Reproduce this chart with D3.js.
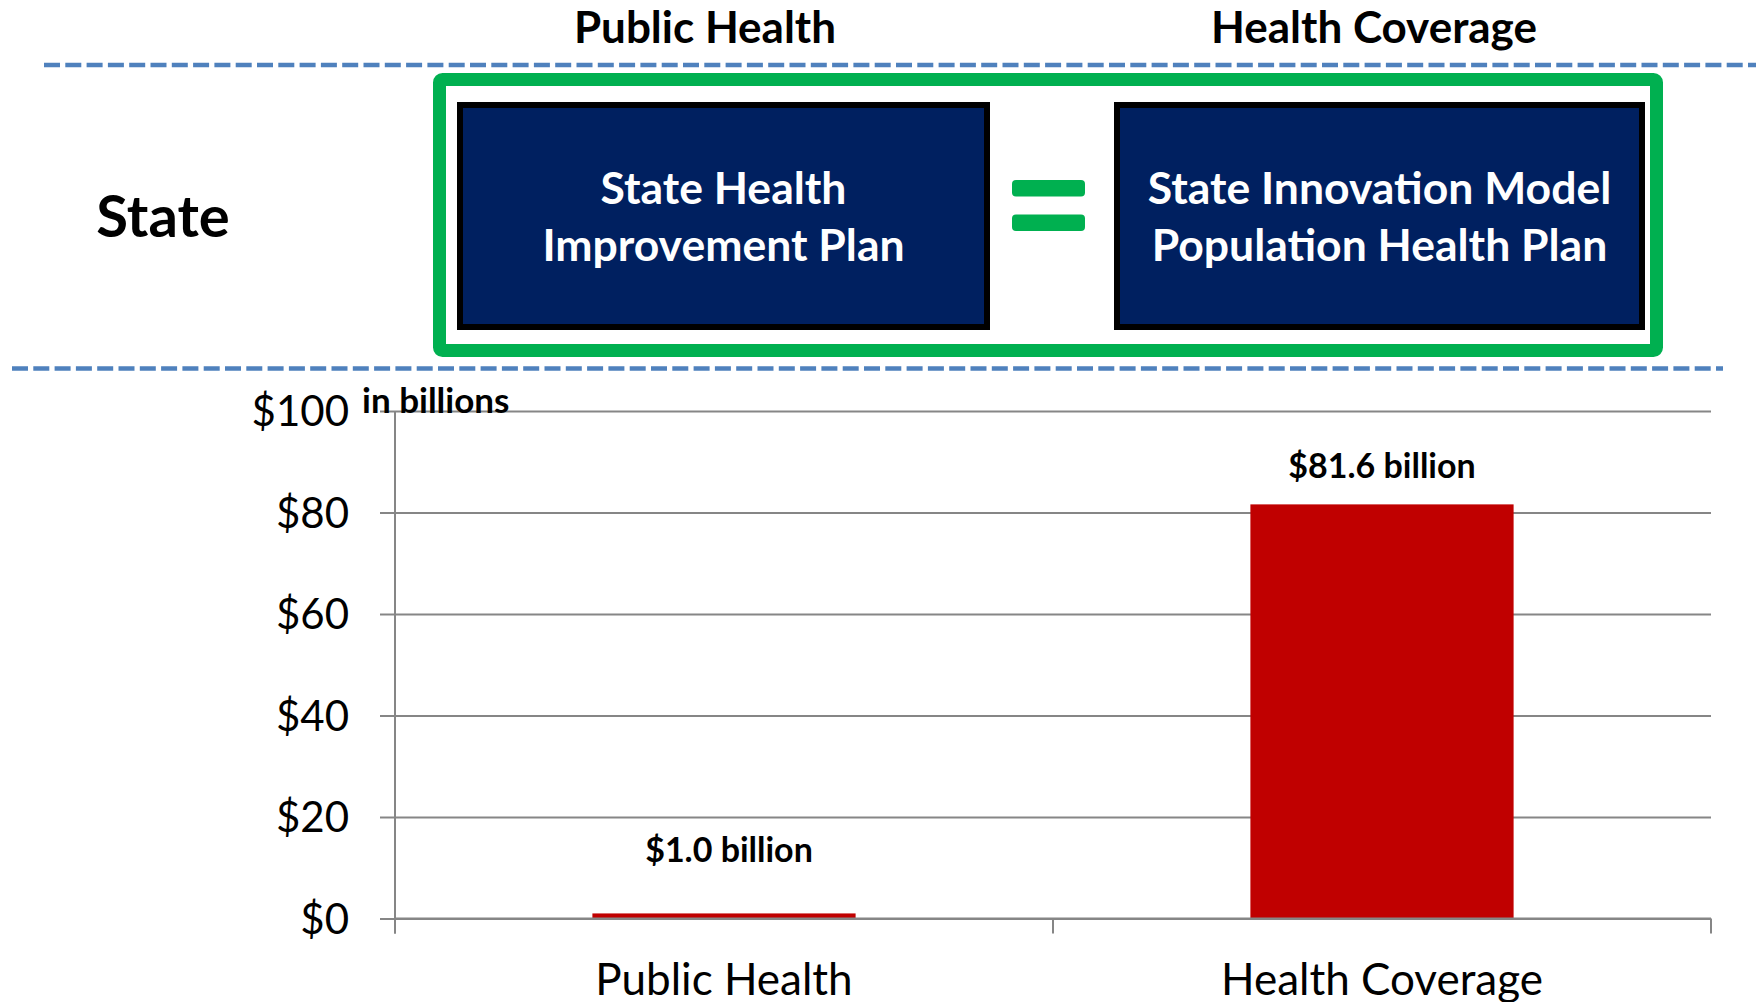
<!DOCTYPE html>
<html>
<head>
<meta charset="utf-8">
<script src="https://cdn.jsdelivr.net/npm/d3@7"></script>
<style>
  html, body { margin: 0; padding: 0; background: #fff; }
  svg { display: block; font-family: Lato, "Open Sans", sans-serif; }
</style>
</head>
<body>
<div id="chart"></div>
<script>
// data ---------------------------------------------------------------
const categories  = ['Public Health', 'Health Coverage'];
const values      = [1.0, 81.6];          // $ billions
const valueLabels = ['$1.0 billion', '$81.6 billion'];
const yTicks      = [0, 20, 40, 60, 80, 100];
const headers     = ['Public Health', 'Health Coverage'];
const planLines   = [
  ['State Health', 'Improvement Plan'],
  ['State Innovation Model', 'Population Health Plan']
];
const rowLabel    = 'State';
const unitLabel   = 'in billions';

// layout -------------------------------------------------------------
const W = 1756, H = 1002;
const plot = { left: 395, right: 1711, top: 411, bottom: 918.5 };
const BLUE = '#4F81BD', GREEN = '#00B050', NAVY = '#002060', RED = '#C00000', GRID = '#868686';

const svg = d3.select('#chart').append('svg')
    .attr('width', W)
    .attr('height', H);

// dashed separators
svg.append('line')
    .attr('x1', 44).attr('x2', W).attr('y1', 65).attr('y2', 65)
    .attr('stroke', BLUE).attr('stroke-width', 4.7).attr('stroke-dasharray', '16 5.3');
svg.append('line')
    .attr('x1', 12).attr('x2', 1723).attr('y1', 368.5).attr('y2', 368.5)
    .attr('stroke', BLUE).attr('stroke-width', 4.7).attr('stroke-dasharray', '16 5.3');

const x = d3.scaleBand()
    .domain(categories)
    .range([plot.left, plot.right])
    .paddingInner(0.6)
    .paddingOuter(0.3);

// column headers
svg.selectAll('text.header')
  .data(headers)
  .join('text')
    .attr('class', 'header')
    .attr('x', (d, i) => [705, 1374][i])
    .attr('y', 43)
    .attr('text-anchor', 'middle')
    .attr('font-weight', 700)
    .attr('font-size', 44)
    .text(d => d);

// row label
svg.append('text')
    .attr('x', 163).attr('y', 237)
    .attr('text-anchor', 'middle')
    .attr('font-weight', 700)
    .attr('font-size', 58)
    .text(rowLabel);

// green frame + plan boxes
svg.append('rect')
    .attr('x', 439.5).attr('y', 79.5)
    .attr('width', 1217).attr('height', 271)
    .attr('rx', 3)
    .attr('fill', 'none')
    .attr('stroke', GREEN).attr('stroke-width', 13);

const boxes = [{ x: 460, w: 527 }, { x: 1117, w: 525 }];
const gBox = svg.selectAll('g.plan')
  .data(planLines)
  .join('g')
    .attr('class', 'plan');

gBox.append('rect')
    .attr('x', (d, i) => boxes[i].x)
    .attr('y', 105)
    .attr('width', (d, i) => boxes[i].w)
    .attr('height', 222)
    .attr('fill', NAVY)
    .attr('stroke', '#000').attr('stroke-width', 6);

gBox.selectAll('text')
  .data((d, i) => d.map((t, j) => ({ t, j, cx: boxes[i].x + boxes[i].w / 2 })))
  .join('text')
    .attr('x', d => d.cx)
    .attr('y', d => 204 + d.j * 57)
    .attr('text-anchor', 'middle')
    .attr('fill', '#fff')
    .attr('font-weight', 700)
    .attr('font-size', 44.5)
    .text(d => d.t);

// equals sign
[180, 214.5].forEach(yy => {
  svg.append('rect')
      .attr('x', 1012).attr('y', yy)
      .attr('width', 73).attr('height', 16.5)
      .attr('rx', 4)
      .attr('fill', GREEN);
});

// bar chart ----------------------------------------------------------
const y = d3.scaleLinear()
    .domain([0, 100])
    .range([plot.bottom, plot.top]);

// gridlines
svg.append('g')
    .attr('transform', `translate(${plot.left},0)`)
    .call(d3.axisLeft(y).tickValues(yTicks).tickSize(-(plot.right - plot.left)).tickFormat(''))
    .call(g => g.select('.domain').remove())
    .call(g => g.selectAll('line').attr('stroke', GRID).attr('stroke-width', 2));

// y axis with ticks + labels
svg.append('g')
    .attr('transform', `translate(${plot.left},0)`)
    .call(d3.axisLeft(y).tickValues(yTicks).tickSize(15).tickPadding(31).tickFormat(d => '$' + d))
    .call(g => g.select('.domain').remove())
    .call(g => g.selectAll('line').attr('stroke', GRID).attr('stroke-width', 2))
    .call(g => g.selectAll('text')
        .attr('font-family', 'Lato, sans-serif')
        .attr('font-size', 42)
        .attr('fill', '#000')
        .attr('dy', '0.35em'));

svg.append('line')
    .attr('x1', plot.left).attr('x2', plot.left)
    .attr('y1', plot.top).attr('y2', plot.bottom + 15)
    .attr('stroke', GRID).attr('stroke-width', 2);

// category boundary ticks
const bounds = [plot.left]
  .concat(categories.slice(1).map(c => x(c) - x.step() * x.paddingInner() / 2))
  .concat([plot.right]);
svg.selectAll('line.cat-tick')
  .data(bounds)
  .join('line')
    .attr('class', 'cat-tick')
    .attr('x1', d => d).attr('x2', d => d)
    .attr('y1', plot.bottom).attr('y2', plot.bottom + 15)
    .attr('stroke', GRID).attr('stroke-width', 2);

// bars
svg.selectAll('rect.bar')
  .data(values)
  .join('rect')
    .attr('class', 'bar')
    .attr('x', (d, i) => x(categories[i]))
    .attr('y', d => y(d))
    .attr('width', x.bandwidth())
    .attr('height', d => y(0) - y(d))
    .attr('fill', RED);

// baseline drawn over bars
svg.append('line')
    .attr('x1', plot.left).attr('x2', plot.right)
    .attr('y1', plot.bottom).attr('y2', plot.bottom)
    .attr('stroke', GRID).attr('stroke-width', 2);

// value labels (short bar's label sits higher, as in the original)
svg.selectAll('text.value')
  .data(values)
  .join('text')
    .attr('class', 'value')
    .attr('x', (d, i) => x(categories[i]) + x.bandwidth() / 2 + (d < 10 ? 5 : 0))
    .attr('y', d => Math.min(y(d) - 26, y(0) - 57))
    .attr('text-anchor', 'middle')
    .attr('font-weight', 700)
    .attr('font-size', 34)
    .text((d, i) => valueLabels[i]);

// unit label
svg.append('text')
    .attr('x', 362).attr('y', 413)
    .attr('font-weight', 700)
    .attr('font-size', 35)
    .text(unitLabel);

// category labels
svg.selectAll('text.cat')
  .data(categories)
  .join('text')
    .attr('class', 'cat')
    .attr('x', d => x(d) + x.bandwidth() / 2)
    .attr('y', 995)
    .attr('text-anchor', 'middle')
    .attr('font-size', 44)
    .text(d => d);
</script>
</body>
</html>
